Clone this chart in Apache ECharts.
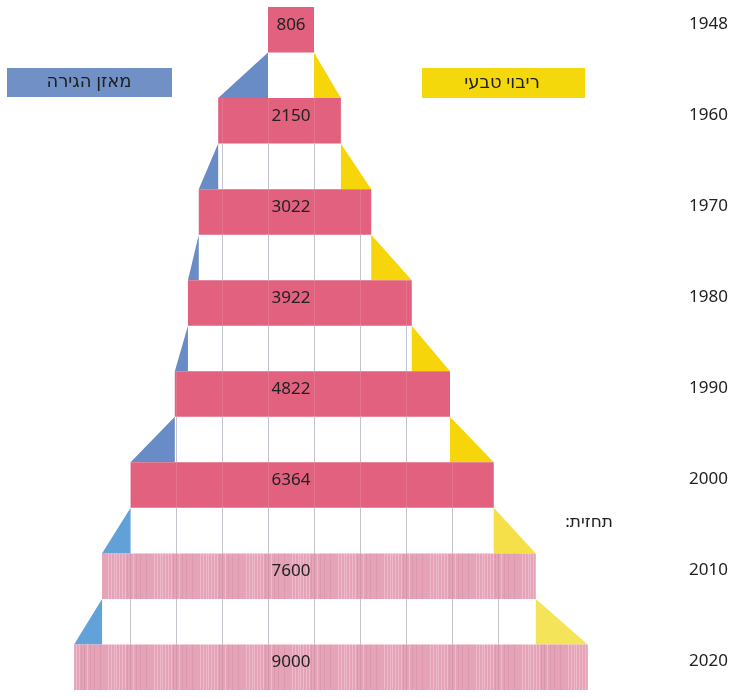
<!DOCTYPE html>
<html>
<head>
<meta charset="utf-8">
<script src="https://cdn.jsdelivr.net/npm/echarts@6/dist/echarts.min.js"></script>
<style>
  html, body { margin: 0; padding: 0; background: #ffffff; }
  #chart { width: 733px; height: 698px; }
</style>
</head>
<body>
<div id="chart"></div>
<script>
// Population of Israel (thousands), with the decade growth split into
// migration balance (added on the left) and natural increase (added on the right).
const years = ['1948', '1960', '1970', '1980', '1990', '2000', '2010', '2020'];
const population = [806, 2150, 3022, 3922, 4822, 6364, 7600, 9000];
const migrationBalance = [873, 340, 190, 230, 775, 500, 490];
const naturalIncrease = [471, 532, 710, 670, 767, 736, 910];
const isForecast = [false, false, false, false, false, false, true, true];
const columnStep = 806;          // width of one grid column, in thousands
const forecastLabel = 'תחזית:\u200F';
const migrationLabel = 'מאזן הגירה';
const naturalLabel = 'ריבוי טבעי';

// Left / right edge of every bar: migration pushes the left edge outward,
// natural increase pushes the right edge outward.
const leftEdge = [0];
const rightEdge = [population[0]];
for (let i = 0; i < migrationBalance.length; i++) {
  leftEdge.push(leftEdge[i] - migrationBalance[i]);
  rightEdge.push(rightEdge[i] + naturalIncrease[i]);
}

const FONT = '"Noto Sans", "DejaVu Sans", sans-serif';
const PINK = '#e1617f';
const BLUE = ['#6a8cc6', '#6a8cc6', '#6a8cc6', '#6a8cc6', '#6a8cc6', '#62a0d8', '#62a2da'];
const YELLOW = ['#f6d60b', '#f6d60b', '#f6d60b', '#f6d60b', '#f6d60b', '#f5e04a', '#f4e459'];

// Soft striped fill for the forecast bars
function makeStripes() {
  const c = document.createElement('canvas');
  c.width = 46; c.height = 4;
  const g = c.getContext('2d');
  g.fillStyle = '#e4a3b7';
  g.fillRect(0, 0, 46, 4);
  const light = [16, 19, 22, 24, 27, 30, 33, 38, 41];
  const dark = [2, 8, 35, 44];
  g.fillStyle = '#eebacb';
  light.forEach(x => g.fillRect(x, 0, 1, 4));
  g.fillStyle = '#dc99ae';
  dark.forEach(x => g.fillRect(x, 0, 1, 4));
  return c;
}
const stripeFill = { image: makeStripes(), repeat: 'repeat' };

function gridValuesInside(a, b) {
  const out = [];
  const start = Math.ceil((a + 1) / columnStep) * columnStep;
  for (let v = start; v < b - 1; v += columnStep) out.push(v);
  return out;
}

function renderItem(params, api) {
  const i = api.value(0);
  const children = [];
  const barTop = 2 * i, barBottom = 2 * i + 1;

  // Gap row above this bar: grid lines and the two growth triangles
  if (i > 0) {
    const gTop = 2 * i - 1, gBottom = 2 * i;
    const pL = leftEdge[i - 1], pR = rightEdge[i - 1];
    gridValuesInside(pL, pR).forEach(v => {
      const a = api.coord([v, gTop]);
      const b = api.coord([v, gBottom]);
      children.push({
        type: 'line',
        shape: { x1: Math.round(a[0]) + 0.5, y1: a[1], x2: Math.round(a[0]) + 0.5, y2: b[1] },
        style: { stroke: '#c4c4cc', lineWidth: 1 }
      });
    });
    children.push({
      type: 'polygon',
      shape: { points: [api.coord([pL, gTop]), api.coord([pL, gBottom]), api.coord([leftEdge[i], gBottom])] },
      style: { fill: BLUE[i - 1] }
    });
    children.push({
      type: 'polygon',
      shape: { points: [api.coord([pR, gTop]), api.coord([pR, gBottom]), api.coord([rightEdge[i], gBottom])] },
      style: { fill: YELLOW[i - 1] }
    });
  }

  // The bar itself
  const p0 = api.coord([leftEdge[i], barTop]);
  const p1 = api.coord([rightEdge[i], barBottom]);
  children.push({
    type: 'rect',
    shape: { x: p0[0], y: p0[1], width: p1[0] - p0[0], height: p1[1] - p0[1] },
    style: { fill: isForecast[i] ? stripeFill : PINK }
  });
  gridValuesInside(leftEdge[i], rightEdge[i]).forEach(v => {
    const a = api.coord([v, barTop]);
    const b = api.coord([v, barBottom]);
    children.push({
      type: 'line',
      shape: { x1: Math.round(a[0]) + 0.5, y1: a[1], x2: Math.round(a[0]) + 0.5, y2: b[1] },
      style: { stroke: isForecast[i] ? 'rgba(150,70,100,0.3)' : 'rgba(255,255,255,0.12)', lineWidth: 1 }
    });
  });

  // Population value, centred over the first column
  const mid = api.coord([population[0] / 2, barTop + 0.5]);
  children.push({
    type: 'text',
    x: mid[0], y: mid[1] - 5,
    style: {
      text: String(population[i]), fill: '#222222',
      font: '17px ' + FONT, align: 'center', verticalAlign: 'middle'
    }
  });

  // Year on the right-hand side
  children.push({
    type: 'text',
    x: api.getWidth() - 5, y: mid[1] - 6,
    style: {
      text: years[i], fill: '#222222',
      font: '17px ' + FONT, align: 'right', verticalAlign: 'middle'
    }
  });

  return { type: 'group', children };
}

const chart = echarts.init(document.getElementById('chart'), null, { renderer: 'canvas' });
chart.setOption({
  backgroundColor: '#ffffff',
  animation: false,
  grid: { left: 38, right: 51, top: 7, bottom: 8 },
  xAxis: { type: 'value', min: -4030, max: 7254, show: false },
  yAxis: { type: 'value', min: 0, max: 15, inverse: true, show: false },
  series: [{
    type: 'custom',
    renderItem,
    data: years.map((y, i) => [i]),
    silent: true
  }],
  graphic: [
    { type: 'rect', shape: { x: 7, y: 68, width: 165, height: 29 }, style: { fill: '#7090c6' } },
    { type: 'text', x: 89, y: 82, style: { text: migrationLabel, fill: '#1e1e1e', font: '18px ' + FONT, align: 'center', verticalAlign: 'middle' } },
    { type: 'rect', shape: { x: 422, y: 68, width: 163, height: 30 }, style: { fill: '#f5d80b' } },
    { type: 'text', x: 502, y: 83, style: { text: naturalLabel, fill: '#1e1e1e', font: '18px ' + FONT, align: 'center', verticalAlign: 'middle' } },
    { type: 'text', x: 613, y: 522, style: { text: forecastLabel, fill: '#222222', font: '17px ' + FONT, align: 'right', verticalAlign: 'middle' } }
  ]
});
</script>
</body>
</html>
